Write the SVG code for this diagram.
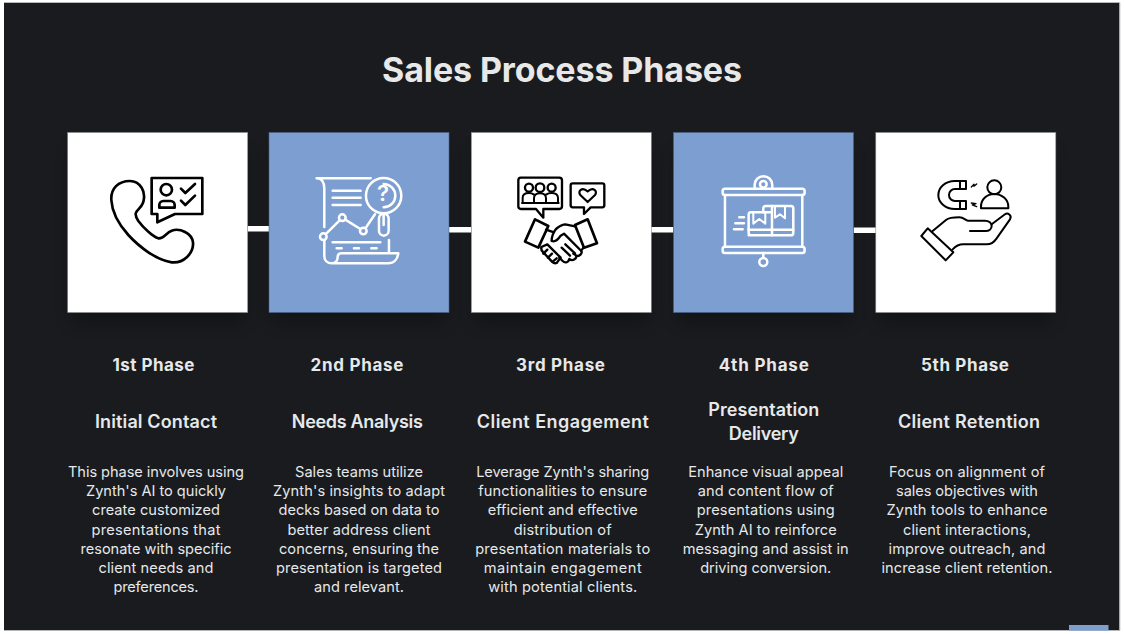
<svg xmlns="http://www.w3.org/2000/svg" width="1124" height="634" viewBox="0 0 1124 634">
<defs>
<filter id="soft" x="-30%" y="-30%" width="160%" height="160%"><feGaussianBlur stdDeviation="9"/></filter>
</defs>
<style>
text{font-family:"Inter","Open Sans","Liberation Sans",sans-serif;text-anchor:middle;fill:#e6e8ea}
.title{font-size:34px;font-weight:700;fill:#e8e8e8}
.phase{font-size:17px;font-weight:700}
.name{font-size:18px;font-weight:600}
.body{font-size:14.6px;font-weight:400}
.shadow{fill:#000;opacity:.3;filter:url(#soft)}
.white{fill:#fff;stroke:#8a8c8e;stroke-width:.6}
.blue{fill:#7d9ed0;stroke:#4d6285;stroke-width:.6}
.ink,.chalk{fill:none;stroke-linejoin:round;stroke-linecap:round}
.ink{stroke:#000;stroke-width:8}
.chalk{stroke:#fff;stroke-width:7.5}
.bar{fill:#fff}
</style>
<rect width="1124" height="634" fill="#fff"/>
<rect x="4" y="3" width="1115.500" height="627.500" fill="#191b1e"/>
<path d="M4,2.500H1119.800V630.500H4" fill="none" stroke="#b4b6b8" stroke-width="1"/>
<rect x="1069" y="625" width="39.500" height="5.500" fill="#7d9ed0"/>
<text class="title" x="562" y="82" textLength="360" lengthAdjust="spacing">Sales Process Phases</text>

<g id="shadows">
<rect class="shadow" x="72" y="150" width="172" height="172"/>
<rect class="shadow" x="273" y="150" width="172" height="172"/>
<rect class="shadow" x="475" y="150" width="172" height="172"/>
<rect class="shadow" x="678" y="150" width="172" height="172"/>
<rect class="shadow" x="880" y="150" width="172" height="172"/>
</g>

<g id="connectors">
<rect class="bar" x="247.500" y="226" width="21.500" height="5.500"/>
<rect class="bar" x="449" y="227" width="22.500" height="5.500"/>
<rect class="bar" x="651" y="227" width="22.500" height="5.500"/>
<rect class="bar" x="853.500" y="227.500" width="22.500" height="5.500"/>
</g>

<g id="phase-1">
<rect class="white" x="67.700" y="132.500" width="180" height="180"/>
<g transform="translate(60 125) scale(.3333)" class="ink">
<path d="M210,168C175,168 152,190 154,225C156,262 178,300 205,330C240,368 290,405 335,412C370,416 402,385 399,352C396,325 360,308 335,317C318,323 312,342 295,340C278,335 250,308 235,288C222,268 226,262 238,250C255,234 256,205 245,188C236,174 224,168 210,168Z"/>
<path d="M275,159H427V267H345L292,292V267H275Z"/>
<circle cx="319" cy="194" r="17"/>
<path d="M298,248V240A12,12 0 0 1 310,228H332A12,12 0 0 1 344,240V248Z"/>
<path d="M363,191L376,204L405,177M363,227L376,240L405,212"/>
</g>
<text class="phase" x="153.500" y="371" textLength="82">1st Phase</text>
<text class="name" x="156" y="428" textLength="122">Initial Contact</text>
<text class="body" x="156" y="477" textLength="176">This phase involves using</text>
<text class="body" x="156" y="496" textLength="140">Zynth's AI to quickly</text>
<text class="body" x="156" y="515" textLength="128">create customized</text>
<text class="body" x="156" y="535" textLength="129">presentations that</text>
<text class="body" x="156" y="554" textLength="151">resonate with specific</text>
<text class="body" x="156" y="573" textLength="115">client needs and</text>
<text class="body" x="156" y="592" textLength="85">preferences.</text>
</g>

<g id="phase-2">
<rect class="blue" x="269" y="132.500" width="180" height="180"/>
<g transform="translate(60 125) scale(.3333)" class="chalk">
<path d="M770,160H932M770,160C785,160 793,172 793,190V306"/>
<path d="M818,197H902M818,218H902M818,240H902"/>
<circle cx="971" cy="212" r="53"/>
<path d="M971,177A35,35 0 0 1 971,247"/>
<rect x="957" y="266" width="29" height="66" rx="14.500"/>
<path d="M971,266V300"/>
<circle cx="790" cy="335" r="10"/>
<circle cx="847" cy="278" r="10"/>
<circle cx="910" cy="318" r="10"/>
<path d="M798,327L839,286M856,284L901,312M917,309L945,268"/>
<path d="M818,352H961M830,370H845M882,370H897M934,370H950"/>
<path d="M987,345V385M793,345V393C793,407 803,415 815,415H985C1002,415 1013,402 1015,385H845C835,385 833,392 833,397C833,407 826,415 815,415"/>
</g>
<text x="383" y="201" font-size="22" font-weight="600" style="fill:#fff">?</text>
<text class="phase" x="357" y="371" textLength="93">2nd Phase</text>
<text class="name" x="357.300" y="428" textLength="131">Needs Analysis</text>
<text class="body" x="359" y="477" textLength="128">Sales teams utilize</text>
<text class="body" x="359" y="496" textLength="172">Zynth's insights to adapt</text>
<text class="body" x="359" y="515" textLength="161">decks based on data to</text>
<text class="body" x="359" y="535" textLength="143">better address client</text>
<text class="body" x="359" y="554" textLength="160">concerns, ensuring the</text>
<text class="body" x="359" y="573" textLength="166">presentation is targeted</text>
<text class="body" x="359" y="592" textLength="90">and relevant.</text>
</g>

<g id="phase-3">
<rect class="white" x="471.300" y="132.500" width="180" height="180"/>
<g transform="translate(460 125) scale(.3333)" class="ink" style="stroke-width:7">
<path d="M182,158H298Q306,158 306,166V244Q306,252 298,252H250V278L228,252H183Q175,252 175,244V166Q175,158 182,158Z"/>
<circle cx="207" cy="188" r="12"/>
<circle cx="240" cy="188" r="13"/>
<circle cx="275" cy="188" r="12"/>
<path d="M188,233V218C188,208 197,204 207,204C212,204 218,206 222,209M222,233V220C222,210 230,205 240,205C250,205 258,210 258,220V233M258,209C262,206 268,204 275,204C286,204 294,209 294,219V233M186,234H296" stroke-width="6"/>
<path d="M338,175H427Q433,175 433,181V241Q433,247 427,247H392L372,267V247H338Q332,247 332,241V181Q332,175 338,175Z"/>
<path d="M383,231L361,210C352,198 366,184 383,199C400,184 414,198 405,210Z" stroke-width="6.500"/>
<path d="M225,283L265,303L235,368L195,350Z" stroke-width="8"/>
<path d="M345,300L383,283L411,355L372,368Z" stroke-width="8"/>
<path d="M258,314L282,322M345,304L316,298C305,298 296,306 288,312C280,322 275,335 275,348C285,352 295,343 302,332L312,326L364,378"/>
<path d="M364,378C368,385 358,396 349,392L340,386M349,392C350,402 338,410 328,402M328,402C326,412 316,416 308,408L298,398M316,358L345,385M305,368L330,392M372,366L366,374"/>
<path d="M244,366L262,358L302,398L290,414C285,416 280,414 276,410L248,380C244,376 243,372 244,366Z"/>
<path d="M262,374L250,386M276,386L264,398M290,400L278,410"/>
</g>
<text class="phase" x="560.500" y="371" textLength="89">3rd Phase</text>
<text class="name" x="562.800" y="428" textLength="172">Client Engagement</text>
<text class="body" x="562.700" y="477" textLength="173">Leverage Zynth's sharing</text>
<text class="body" x="562.700" y="496" textLength="169">functionalities to ensure</text>
<text class="body" x="562.700" y="515" textLength="150">efficient and effective</text>
<text class="body" x="562.700" y="535" textLength="98">distribution of</text>
<text class="body" x="562.700" y="554" textLength="175">presentation materials to</text>
<text class="body" x="562.700" y="573" textLength="158">maintain engagement</text>
<text class="body" x="562.700" y="592" textLength="149">with potential clients.</text>
</g>

<g id="phase-4">
<rect class="blue" x="673.500" y="132.500" width="180" height="180"/>
<g transform="translate(460 125) scale(.3333)" class="chalk">
<rect x="788" y="191" width="246" height="19" rx="7"/>
<rect x="788" y="365" width="246" height="19" rx="7"/>
<path d="M795,210V365M1027,210V365"/>
<path d="M884,190V180A26.500,26.500 0 0 1 937,180V190"/>
<circle cx="910" cy="178" r="10"/>
<path d="M910,384V399"/>
<circle cx="910" cy="411" r="12"/>
<path d="M866,331H992Q1000,331 1000,323V250Q1000,243 993,243H918Q910,243 910,250V262H873Q866,262 866,269V323Q866,331 874,331Z"/>
<path d="M910,262H936V314M936,243V262M866,314H1000M936,314V331"/>
<path d="M880,265V296L898,282L916,296V265M945,245V278L960,268L975,280V245" stroke-width="6"/>
<path d="M838,277H852M826,295H852M822,313H848"/>
</g>
<text class="phase" x="763.800" y="371" textLength="90">4th Phase</text>
<text class="name" x="763.800" y="416" textLength="111">Presentation</text>
<text class="name" x="763.800" y="440" textLength="70">Delivery</text>
<text class="body" x="765.700" y="477" textLength="155">Enhance visual appeal</text>
<text class="body" x="765.700" y="496" textLength="136">and content flow of</text>
<text class="body" x="765.700" y="515" textLength="138">presentations using</text>
<text class="body" x="765.700" y="535" textLength="142">Zynth AI to reinforce</text>
<text class="body" x="765.700" y="554" textLength="166">messaging and assist in</text>
<text class="body" x="765.700" y="573" textLength="131">driving conversion.</text>
</g>

<g id="phase-5">
<rect class="white" x="875.800" y="132.500" width="180" height="180"/>
<g transform="translate(850 125) scale(.3333)" class="ink" style="stroke-width:6">
<path d="M348,168H315C285,168 265,188 265,210S285,252 315,252H348V228H315C305,228 297,220 297,210S305,192 315,192H348Z"/>
<path d="M330,168V192M330,228V252"/>
<path d="M364,186L372,178L372,184L380,177M364,234L378,236L367,240L380,245" stroke-width="4"/>
<circle cx="433" cy="187" r="21"/>
<path d="M393,250V245C393,223 411,207 433,207S475,223 475,245V250Z"/>
<path d="M233,310L310,382L287,406L214,333Z"/>
<path d="M248,318L288,285C298,277 310,277 328,277C340,277 345,284 353,287H405C417,287 425,295 425,303C425,312 417,318 407,318H360"/>
<path d="M425,298L465,268C473,262 487,270 480,283L440,340C432,352 422,358 410,358H340C328,358 318,362 308,373"/>
</g>
<text class="phase" x="965" y="371" textLength="88">5th Phase</text>
<text class="name" x="969" y="428" textLength="142">Client Retention</text>
<text class="body" x="967" y="477" textLength="156">Focus on alignment of</text>
<text class="body" x="967" y="496" textLength="142">sales objectives with</text>
<text class="body" x="967" y="515" textLength="161">Zynth tools to enhance</text>
<text class="body" x="967" y="535" textLength="128">client interactions,</text>
<text class="body" x="967" y="554" textLength="157">improve outreach, and</text>
<text class="body" x="967" y="573" textLength="171">increase client retention.</text>
</g>
</svg>
